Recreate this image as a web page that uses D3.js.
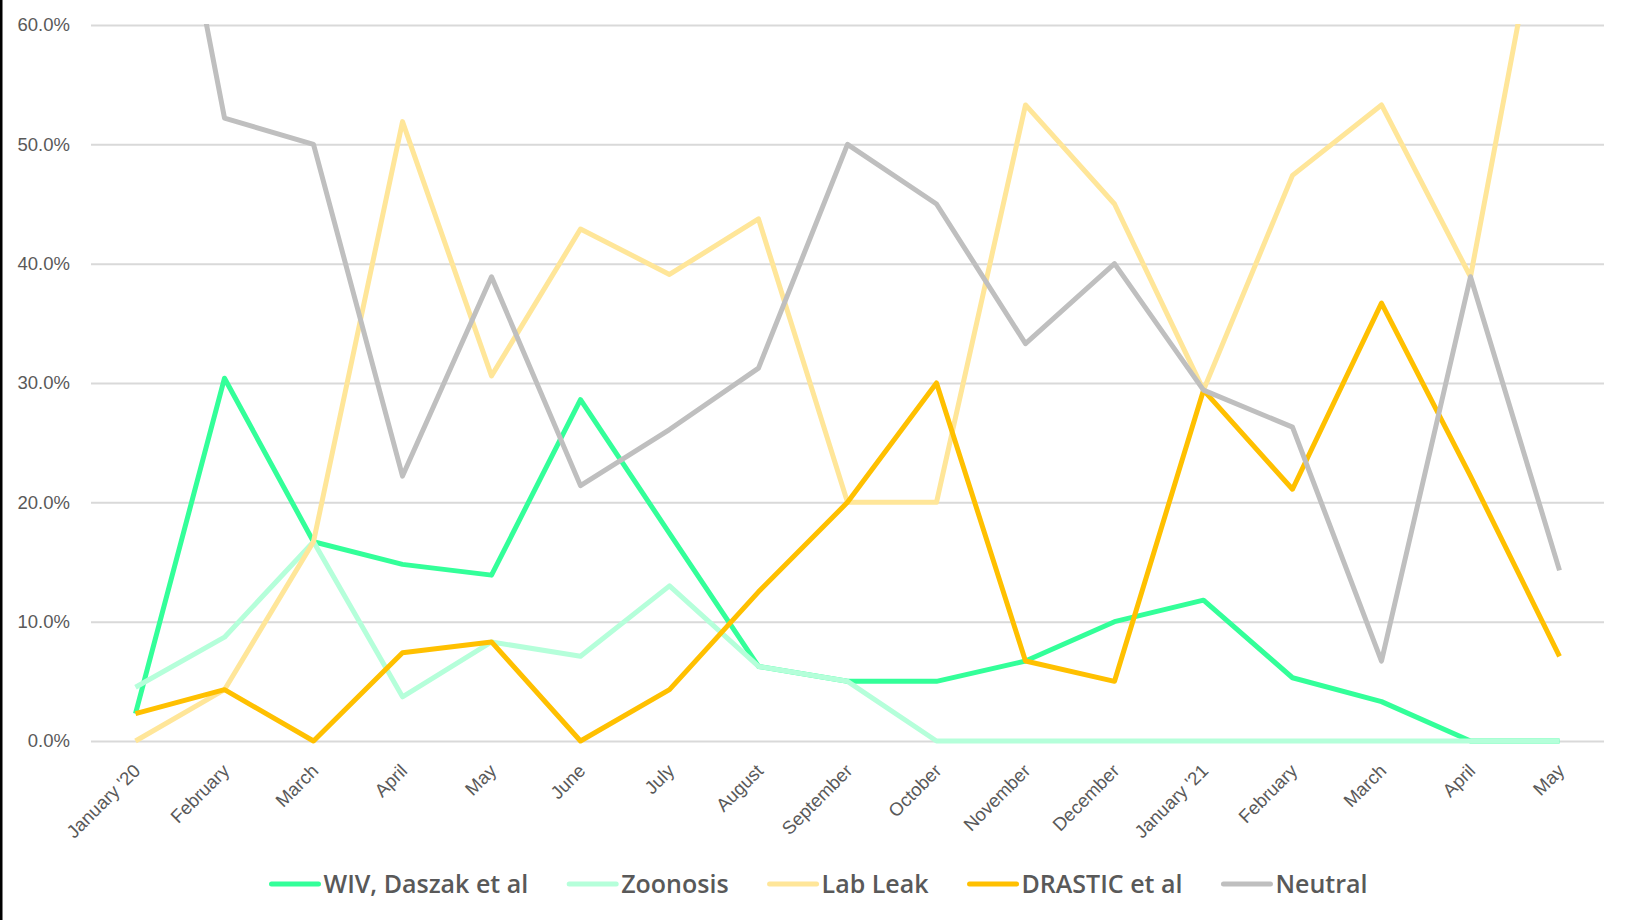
<!DOCTYPE html>
<html>
<head>
<meta charset="utf-8">
<script src="https://cdn.jsdelivr.net/npm/d3@7"></script>
<style>
    html, body { margin: 0; padding: 0; background: #fff; }
    svg { display: block; font-family: "Open Sans", sans-serif; }
</style>
</head>
<body>
<div class="graphic"></div>
<script>
// months on the x axis
var months = ["January '20", "February", "March", "April", "May", "June", "July",
    "August", "September", "October", "November", "December", "January '21",
    "February", "March", "April", "May"]

// share of each month, in percent
var wiv      = [2.3, 30.4, 16.7, 14.8, 13.9, 28.6, 17.4, 6.25, 5.0, 5.0, 6.7, 10.0, 11.8, 5.3, 3.3, 0, 0]
var zoonosis = [4.5, 8.7, 16.7, 3.7, 8.3, 7.1, 13.0, 6.25, 5.0, 0, 0, 0, 0, 0, 0, 0, 0]
var labLeak  = [0, 4.3, 16.7, 51.9, 30.6, 42.9, 39.1, 43.75, 20.0, 20.0, 53.3, 45.0, 29.4, 47.4, 53.3, 38.9, 78.6]
var drastic  = [2.3, 4.3, 0, 7.4, 8.3, 0, 4.3, 12.5, 20.0, 30.0, 6.7, 5.0, 29.4, 21.1, 36.7, 22.2, 7.1]
var neutral  = [90.9, 52.2, 50.0, 22.2, 38.9, 21.4, 26.1, 31.25, 50.0, 45.0, 33.3, 40.0, 29.4, 26.3, 6.7, 38.9, 14.3]

var yTicks = [0, 10, 20, 30, 40, 50, 60]

var seriesNames = ["WIV, Daszak et al", "Zoonosis", "Lab Leak", "DRASTIC et al", "Neutral"]
var seriesValues = [wiv, zoonosis, labLeak, drastic, neutral]
var seriesColors = ["#33FF99", "#B5FFDA", "#FFE699", "#FFC000", "#BFBFBF"]

var width = 1627
var height = 920
var margin = { top: 25, right: 23, bottom: 179, left: 91 }

var svg = d3.select('.graphic').append('svg')
    .attr('width', width)
    .attr('height', height)

svg.append('rect')
    .attr('width', width)
    .attr('height', height)
    .attr('fill', '#fff')

// thin dark edge on the left of the picture
svg.append('rect')
    .attr('x', 0).attr('y', 0)
    .attr('width', 2.5).attr('height', height)
    .attr('fill', '#000')

var x = d3.scaleBand()
    .domain(months.map(function(d, i) { return i }))
    .range([margin.left, width - margin.right])

var y = d3.scaleLinear()
    .domain([0, 60])
    .range([height - margin.bottom, margin.top])

function cx(i) { return x(i) + x.bandwidth() / 2 }

// grid lines + y labels
var yAxis = d3.axisLeft(y)
    .tickValues(yTicks)
    .tickSize(-(width - margin.right - margin.left))
    .tickFormat(function(d) { return d.toFixed(1) + '%' })
    .tickPadding(21)

var gy = svg.append('g')
    .attr('transform', 'translate(' + margin.left + ',0)')
    .call(yAxis)
gy.select('.domain').remove()
gy.selectAll('line').attr('stroke', '#D9D9D9').attr('stroke-width', 2)
gy.selectAll('text')
    .attr('fill', '#595959')
    .style('font-size', '18.5px')

// x labels, rotated
var xAxis = d3.axisBottom(x)
    .tickSize(0)
    .tickFormat(function(i) { return months[i] })

var gx = svg.append('g')
    .attr('transform', 'translate(0,' + (height - margin.bottom) + ')')
    .call(xAxis)
gx.select('.domain').remove()
gx.selectAll('text')
    .attr('fill', '#595959')
    .style('font-size', '18.5px')
    .attr('text-anchor', 'end')
    .attr('y', 0)
    .attr('dy', 0)
    .attr('transform', 'translate(6,31) rotate(-45)')

svg.append('clipPath')
    .attr('id', 'plot-clip')
    .append('rect')
    .attr('x', 0)
    .attr('y', margin.top - 1)
    .attr('width', width)
    .attr('height', height - margin.top - margin.bottom + 4)

var line = d3.line()
    .x(function(d, i) { return cx(i) })
    .y(function(d) { return y(d) })

svg.append('g')
    .attr('clip-path', 'url(#plot-clip)')
    .selectAll('path')
    .data(seriesValues)
    .enter()
    .append('path')
    .attr('d', line)
    .attr('fill', 'none')
    .attr('stroke', function(d, i) { return seriesColors[i] })
    .attr('stroke-width', 5)
    .attr('stroke-linejoin', 'round')
    .attr('stroke-linecap', 'butt')

// legend
var legendY = 884
var legend = svg.append('g')
var lx = 0
seriesNames.forEach(function(name, i) {
    var item = legend.append('g').attr('transform', 'translate(' + lx + ',0)')
    item.append('line')
        .attr('x1', 3).attr('x2', 50)
        .attr('y1', 0).attr('y2', 0)
        .attr('stroke', seriesColors[i])
        .attr('stroke-width', 5)
        .attr('stroke-linecap', 'round')
    var t = item.append('text')
        .attr('x', 55)
        .attr('y', 0)
        .attr('dy', '0.36em')
        .attr('fill', '#595959')
        .style('font-size', '25px')
        .style('font-weight', 600)
        .text(name)
    lx += 55 + t.node().getComputedTextLength() + 38
})
lx -= 38
legend.attr('transform', 'translate(' + (818 - lx / 2) + ',' + legendY + ')')
</script>
</body>
</html>
